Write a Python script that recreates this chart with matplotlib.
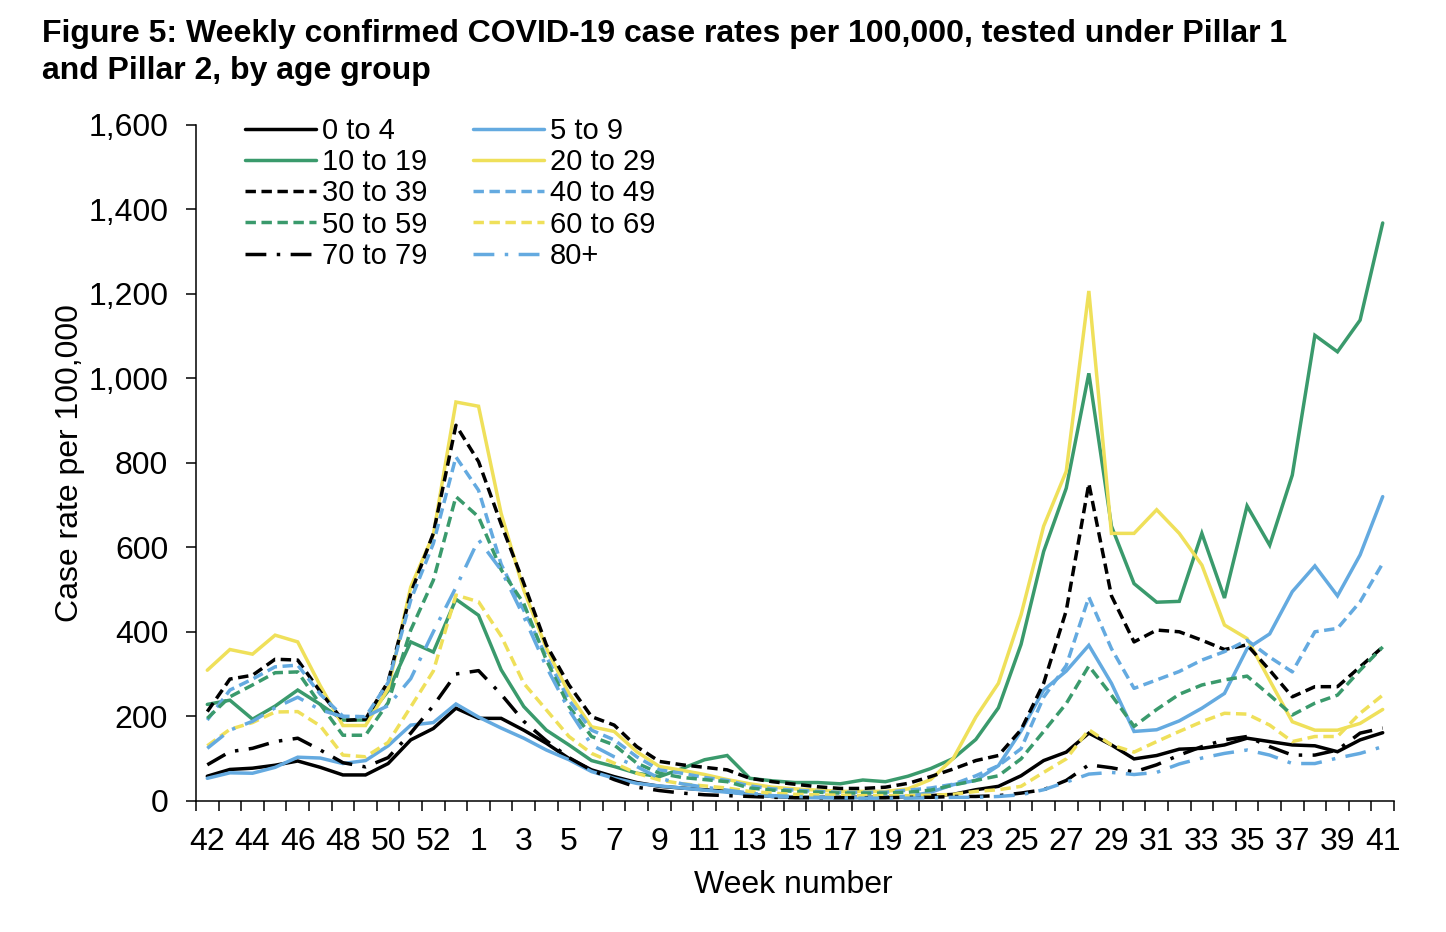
import matplotlib
matplotlib.use("Agg")
import matplotlib.pyplot as plt
import numpy as np

plt.rcParams["font.family"] = ["Liberation Sans", "DejaVu Sans"]

# week numbers: 42-53 of 2020, then 1-41 of 2021
weeks = list(range(42, 54)) + list(range(1, 42))

age_0_4 = [58, 74, 77, 84, 94, 79, 61, 61, 88, 144, 171, 219, 195,
           195, 167, 136, 100, 73, 57, 43, 34,
           30, 26, 22, 15, 10, 8, 8, 8, 8, 8, 10, 12, 15, 26,
           34, 59, 95, 115, 160, 132, 99, 107, 122, 124, 132, 148, 140, 132, 130, 116, 144, 161]
age_5_9 = [53, 66, 65, 79, 103, 101, 88, 95, 130, 179, 185, 229, 198,
           172, 148, 120, 97, 69, 53, 41, 35,
           30, 25, 20, 15, 10, 8, 7, 7, 7, 8, 10, 20, 38, 48,
           83, 165, 262, 307, 368, 278, 164, 168, 189, 219, 254, 360, 395, 495, 556, 485, 582, 720]
age_10_19 = [228, 238, 193, 224, 262, 228, 191, 191, 260, 376, 352, 477, 439,
             310, 223, 167, 132, 95, 81, 65, 57,
             76, 97, 107, 53, 47, 43, 43, 40, 49, 45, 58, 76, 100, 145,
             220, 370, 590, 740, 1012, 650, 514, 470, 472, 633, 480, 698, 605, 771, 1102, 1063, 1138, 1368]
age_20_29 = [309, 358, 347, 392, 376, 272, 178, 178, 265, 506, 630, 944, 934,
             680, 499, 361, 254, 175, 164, 116, 81,
             72, 62, 50, 40, 32, 28, 25, 22, 22, 22, 28, 50, 100, 198,
             278, 440, 650, 780, 1207, 633, 633, 689, 633, 558, 416, 384, 285, 187, 167, 167, 183, 216]
age_30_39 = [211, 288, 297, 335, 333, 258, 190, 193, 282, 491, 633, 889, 803,
             655, 515, 369, 274, 199, 179, 128, 93,
             85, 79, 73, 53, 45, 39, 33, 29, 29, 32, 41, 57, 75, 95,
             107, 168, 278, 450, 751, 485, 376, 404, 400, 380, 358, 369, 309, 246, 270, 270, 317, 364]
age_40_49 = [191, 262, 288, 317, 321, 252, 200, 199, 280, 475, 609, 814, 735,
             560, 451, 341, 238, 167, 144, 104, 73,
             65, 55, 48, 35, 28, 25, 22, 20, 20, 20, 25, 30, 39, 59,
             83, 123, 245, 320, 482, 360, 266, 286, 306, 333, 353, 380, 340, 305, 400, 408, 471, 562]
age_50_59 = [195, 246, 274, 303, 305, 228, 155, 155, 232, 404, 522, 720, 672,
             547, 467, 333, 223, 152, 132, 89, 65,
             55, 50, 45, 30, 25, 22, 20, 18, 18, 18, 20, 25, 37, 48,
             59, 99, 164, 230, 319, 250, 176, 216, 252, 274, 286, 295, 250, 203, 231, 250, 309, 364]
age_60_69 = [130, 169, 185, 210, 211, 177, 108, 104, 138, 222, 307, 487, 471,
             390, 278, 215, 152, 112, 89, 65, 49,
             40, 35, 30, 22, 18, 15, 14, 13, 12, 12, 12, 13, 15, 22,
             26, 34, 67, 99, 168, 132, 115, 140, 164, 187, 207, 205, 179, 140, 152, 152, 207, 250]
age_70_79 = [85, 116, 124, 140, 148, 120, 90, 80, 102, 160, 225, 300, 308,
             252, 188, 142, 102, 72, 50, 32, 24,
             18, 14, 12, 10, 8, 7, 7, 7, 7, 7, 8, 8, 10, 10,
             12, 18, 26, 48, 85, 78, 68, 85, 108, 128, 144, 152, 128, 108, 108, 120, 160, 172]
age_80_plus = [124, 167, 188, 220, 245, 215, 199, 199, 225, 289, 400, 505, 618,
               546, 436, 317, 215, 132, 104, 81, 53,
               40, 32, 25, 18, 12, 10, 8, 7, 6, 6, 6, 7, 8, 8,
               10, 14, 26, 44, 63, 67, 62, 67, 87, 101, 112, 120, 108, 88, 88, 101, 112, 128]

BLACK = "#000000"
BLUE = "#64AAE0"
GREEN = "#3A9A6C"
YELLOW = "#EFE05A"
SOLID = "-"
DASH = (0, (3.0, 1.6))
DASHDOT = (0, (6.0, 3.0, 1.0, 3.0))

series = [
    ("0 to 4", age_0_4, BLACK, SOLID),
    ("5 to 9", age_5_9, BLUE, SOLID),
    ("10 to 19", age_10_19, GREEN, SOLID),
    ("20 to 29", age_20_29, YELLOW, SOLID),
    ("30 to 39", age_30_39, BLACK, DASH),
    ("40 to 49", age_40_49, BLUE, DASH),
    ("50 to 59", age_50_59, GREEN, DASH),
    ("60 to 69", age_60_69, YELLOW, DASH),
    ("70 to 79", age_70_79, BLACK, DASHDOT),
    ("80+", age_80_plus, BLUE, DASHDOT),
]

fig = plt.figure(figsize=(14.46, 9.32), dpi=100)
ax = fig.add_axes([196 / 1446, 1 - 800.7 / 932, 1198 / 1446, 675.7 / 932])

x = np.arange(len(weeks))
lines = {}
for label, values, color, style in series:
    (ln,) = ax.plot(x, values, color=color, linestyle=style, linewidth=2.5,
                    label=label, solid_capstyle="round", solid_joinstyle="miter")
    lines[label] = ln

ax.set_xlim(-0.5, len(weeks) - 0.5)
ax.set_ylim(0, 1600)

ax.set_xticks(x[::2])
ax.set_xticklabels([str(w) for w in weeks[::2]])
ax.set_xticks(np.arange(-0.5, len(weeks), 1), minor=True)
ax.tick_params(axis="x", which="major", length=0, pad=19, labelsize=23)
ax.tick_params(axis="x", which="minor", length=7, width=1.1, direction="out")

yticks = np.arange(0, 1601, 200)
ax.set_yticks(yticks)
ax.set_yticklabels([f"{v:,}" for v in yticks])
ax.tick_params(axis="y", length=7, width=1.1, pad=13, labelsize=23)

for side in ["top", "right"]:
    ax.spines[side].set_visible(False)
for side in ["left", "bottom"]:
    ax.spines[side].set_linewidth(1.1)

ax.set_ylabel("Case rate per 100,000", fontsize=23)
ax.yaxis.set_label_coords(-0.093, 0.5)
ax.set_xlabel("Week number", fontsize=23)
ax.xaxis.set_label_coords(0.499, -0.102)

# legend fills column by column
order = ["0 to 4", "10 to 19", "30 to 39", "50 to 59", "70 to 79",
         "5 to 9", "20 to 29", "40 to 49", "60 to 69", "80+"]
ax.legend([lines[k] for k in order], order, ncol=2, frameon=False,
          loc="upper left", bbox_to_anchor=(245 / 1446, 1 - 117 / 932),
          bbox_transform=fig.transFigure, fontsize=21, handlelength=2.45,
          handletextpad=0.2, columnspacing=1.55, labelspacing=0.11,
          borderpad=0, borderaxespad=0)

fig.text(42 / 1446, 1 - 19 / 932,
         "Figure 5: Weekly confirmed COVID-19 case rates per 100,000, tested under Pillar 1\n"
         "and Pillar 2, by age group",
         fontsize=23, fontweight="bold", va="top", ha="left", linespacing=1.3)

fig.savefig("out.png", dpi=100)
